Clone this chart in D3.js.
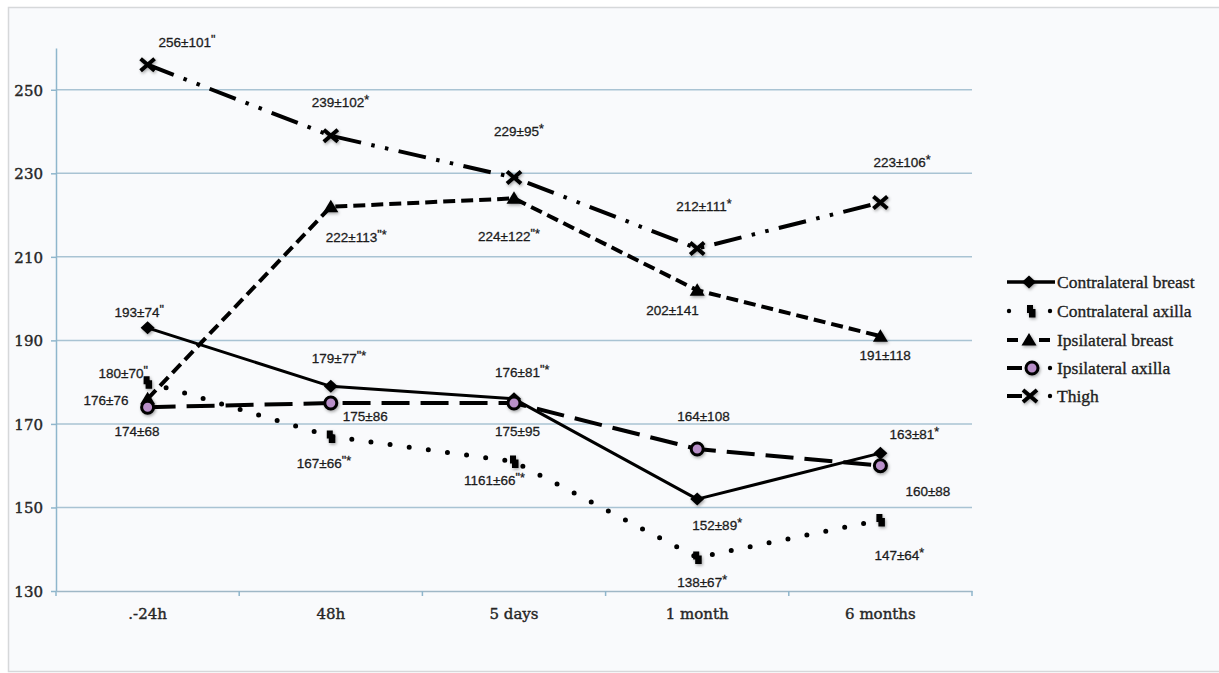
<!DOCTYPE html>
<html>
<head>
<meta charset="utf-8">
<script src="https://cdn.jsdelivr.net/npm/d3@7"></script>
<style>
  html, body { margin: 0; padding: 0; background: #ffffff; }
  svg { display: block; }
</style>
</head>
<body>
<svg id="chart" width="1219" height="673"></svg>
<script>
// ---------------- data ----------------
const categories = [".-24h", "48h", "5 days", "1 month", "6 months"];
const yTicks = [130, 150, 170, 190, 210, 230, 250];
const seriesNames = ["Contralateral breast", "Contralateral axilla", "Ipsilateral breast", "Ipsilateral axilla", "Thigh"];

const contralateralBreast = [193, 179, 176, 152, 163];
const contralateralAxilla = [180, 167, 161, 138, 147];
const ipsilateralBreast   = [176, 222, 224, 202, 191];
const ipsilateralAxilla   = [174, 175, 175, 164, 160];
const thigh               = [256, 239, 229, 212, 223];

const contralateralBreastLabels = ["193±74\"", "179±77\"*", "176±81\"*", "152±89*", "163±81*"];
const contralateralAxillaLabels = ["180±70\"", "167±66\"*", "1161±66\"*", "138±67*", "147±64*"];
const ipsilateralBreastLabels   = ["176±76", "222±113\"*", "224±122\"*", "202±141", "191±118"];
const ipsilateralAxillaLabels   = ["174±68", "175±86", "175±95", "164±108", "160±88"];
const thighLabels               = ["256±101\"", "239±102*", "229±95*", "212±111*", "223±106*"];

// ---------------- layout / style (not data) ----------------
const labelOffsets = [
  [[-33,-11],[-19,-23],[-19,-22],[-5,31],[9,-14]],     // contralateral breast
  [[-49,-4],[-34,32],[-50,23],[-20,29],[-6,40]],       // contralateral axilla
  [[-64,6],[-5,35],[-36,43],[-51,25],[-21,24]],        // ipsilateral breast
  [[-33,29],[12,18],[-19,33],[-20,-28],[25,30]],       // ipsilateral axilla
  [[11,-18],[-19,-29],[-20,-41],[-21,-37],[-7,-36]]    // thigh
];
const styles = [
  { width: 3, dash: null, cap: "butt", marker: "diamond" },
  { width: 5, dash: "0 19.3", cap: "round", marker: "square" },
  { width: 4, dash: "12 6", cap: "butt", marker: "triangle" },
  { width: 4, dash: "28 11", cap: "butt", marker: "circle" },
  { width: 4, dash: "28 10.5 3.5 10.5 3.5 10.5", cap: "butt", marker: "cross" }
];

const series = [
  { name: seriesNames[0], values: contralateralBreast, labels: contralateralBreastLabels },
  { name: seriesNames[1], values: contralateralAxilla, labels: contralateralAxillaLabels },
  { name: seriesNames[2], values: ipsilateralBreast, labels: ipsilateralBreastLabels },
  { name: seriesNames[3], values: ipsilateralAxilla, labels: ipsilateralAxillaLabels },
  { name: seriesNames[4], values: thigh, labels: thighLabels }
];

const svg = d3.select("#chart");

const defs = svg.append("defs");
const f = defs.append("filter").attr("id", "shadow").attr("x", "-50%").attr("y", "-50%").attr("width", "200%").attr("height", "200%");
f.append("feDropShadow").attr("dx", 1).attr("dy", 1.5).attr("stdDeviation", 1.5).attr("flood-color", "#000").attr("flood-opacity", 0.35);

// frame
svg.append("rect").attr("x", 8.5).attr("y", 7.5).attr("width", 1215).attr("height", 664)
  .attr("fill", "#f9fafc").attr("stroke", "#d6d8da").attr("stroke-width", 1.5);

const x = d3.scaleBand().domain(categories).range([56, 972]).paddingInner(0).paddingOuter(0);
const cx = c => x(c) + x.bandwidth() / 2;
const y = d3.scaleLinear().domain([130, 260]).range([591, 48]);

// gridlines
svg.append("g").selectAll("line").data(yTicks.filter(t => t > 130)).join("line")
  .attr("x1", 56).attr("x2", 972)
  .attr("y1", d => y(d)).attr("y2", d => y(d))
  .attr("stroke", "#a9c3d3").attr("stroke-width", 1.5);

// y axis
const yAxis = svg.append("g").attr("transform", "translate(56,0)")
  .call(d3.axisLeft(y).tickValues(yTicks).tickSize(5).tickSizeOuter(0).tickPadding(8).tickFormat(d3.format("d")));
yAxis.select(".domain").attr("stroke", "#8fb6cc").attr("stroke-width", 1.5);
yAxis.selectAll(".tick line").attr("stroke", "#8fb6cc").attr("stroke-width", 1.5);
yAxis.selectAll(".tick text").attr("font-family", "'DejaVu Serif', serif").attr("font-size", 15)
  .attr("fill", "#262626").attr("stroke", "#262626").attr("stroke-width", 0.4).attr("dy", "0.36em");

// x axis
const xAxis = svg.append("g").attr("transform", "translate(0,591)")
  .call(d3.axisBottom(x).tickSize(0).tickSizeOuter(0).tickPadding(17));
xAxis.select(".domain").attr("stroke", "#9fb7c6").attr("stroke-width", 1.5);
xAxis.selectAll(".tick text").attr("font-family", "'DejaVu Serif', serif").attr("font-size", 15)
  .attr("fill", "#262626").attr("stroke", "#262626").attr("stroke-width", 0.4);
svg.append("g").selectAll("line").data(categories.map(c => x(c)).concat([x.range()[1]])).join("line")
  .attr("x1", d => d).attr("x2", d => d).attr("y1", 591).attr("y2", 596)
  .attr("stroke", "#8fb6cc").attr("stroke-width", 1.5);

function drawMarker(g, type, px, py) {
  const m = g.append("g").attr("transform", `translate(${px},${py})`).attr("filter", "url(#shadow)");
  if (type === "diamond") {
    m.append("path").attr("d", "M0,-6.5 L7,0 L0,6.5 L-7,0 Z").attr("fill", "#000");
  } else if (type === "square") {
    m.append("path").attr("d", "M-4,-6 L2,-6 L2,-2 L4.5,-2 L4.5,6.5 L-2,6.5 L-2,2 L-4,2 Z").attr("fill", "#000");
  } else if (type === "triangle") {
    m.append("path").attr("d", "M0,-7 L7.5,5.5 L-7.5,5.5 Z").attr("fill", "#000");
  } else if (type === "circle") {
    m.append("circle").attr("r", 6).attr("fill", "#b88fc8").attr("stroke", "#000").attr("stroke-width", 3);
  } else if (type === "cross") {
    m.append("path").attr("d", "M-7,-6 L7,6 M-7,6 L7,-6").attr("stroke", "#000").attr("stroke-width", 4).attr("fill", "none");
  }
}

// lines
const line = d3.line().x((d, i) => cx(categories[i])).y(d => y(d));
const linesG = svg.append("g");
[4, 2, 1, 3, 0].forEach(si => {
  const s = series[si], st = styles[si];
  linesG.append("path").datum(s.values).attr("d", line)
    .attr("fill", "none").attr("stroke", "#000").attr("stroke-width", st.width)
    .attr("stroke-dasharray", st.dash).attr("stroke-linecap", st.cap).attr("stroke-linejoin", "round");
});

// markers
const markersG = svg.append("g");
series.forEach((s, si) => {
  s.values.forEach((v, i) => drawMarker(markersG, styles[si].marker, cx(categories[i]), y(v)));
});

// value labels
const labelsG = svg.append("g").attr("font-family", "'Liberation Sans', Arial, sans-serif").attr("font-size", 13.5)
  .attr("fill", "#1c1c1c").attr("stroke", "#1c1c1c").attr("stroke-width", 0.3);
series.forEach((s, si) => {
  s.labels.forEach((lab, i) => {
    const m = lab.match(/^(.*?)(["*]*)$/);
    const [dx, dy] = labelOffsets[si][i];
    const t = labelsG.append("text")
      .attr("x", cx(categories[i]) + dx).attr("y", y(s.values[i]) + dy);
    t.append("tspan").text(m[1]);
    if (m[2]) t.append("tspan").attr("dy", -3).attr("font-size", 12.5).text(m[2]);
  });
});

// legend
const legendRows = [282, 311, 340, 368, 396];
const legend = svg.append("g");
const legendLines = [
  [[1007, 1055]],
  [],
  [[1007, 1018], [1039, 1050]],
  [[1007, 1022]],
  [[1007, 1022]]
];
const legendDots = [[], [1009, 1050], [], [1050], [1050]];
const legendMarkerX = [1029, 1031, 1029, 1032, 1030];
series.forEach((s, si) => {
  const ly = legendRows[si];
  legendLines[si].forEach(([a, b]) => legend.append("line").attr("x1", a).attr("x2", b).attr("y1", ly).attr("y2", ly)
    .attr("stroke", "#000").attr("stroke-width", si === 0 ? 3.5 : 4));
  legendDots[si].forEach(dx => legend.append("circle").attr("cx", dx).attr("cy", ly).attr("r", 2.2).attr("fill", "#000"));
  drawMarker(legend, styles[si].marker, legendMarkerX[si], ly);
  legend.append("text").attr("x", 1057).attr("y", ly).attr("dy", "0.35em")
    .attr("font-family", "'Liberation Serif', serif").attr("font-size", 17.5).attr("fill", "#1e1e1e")
    .attr("stroke", "#1e1e1e").attr("stroke-width", 0.35)
    .text(s.name);
});
</script>
</body>
</html>
